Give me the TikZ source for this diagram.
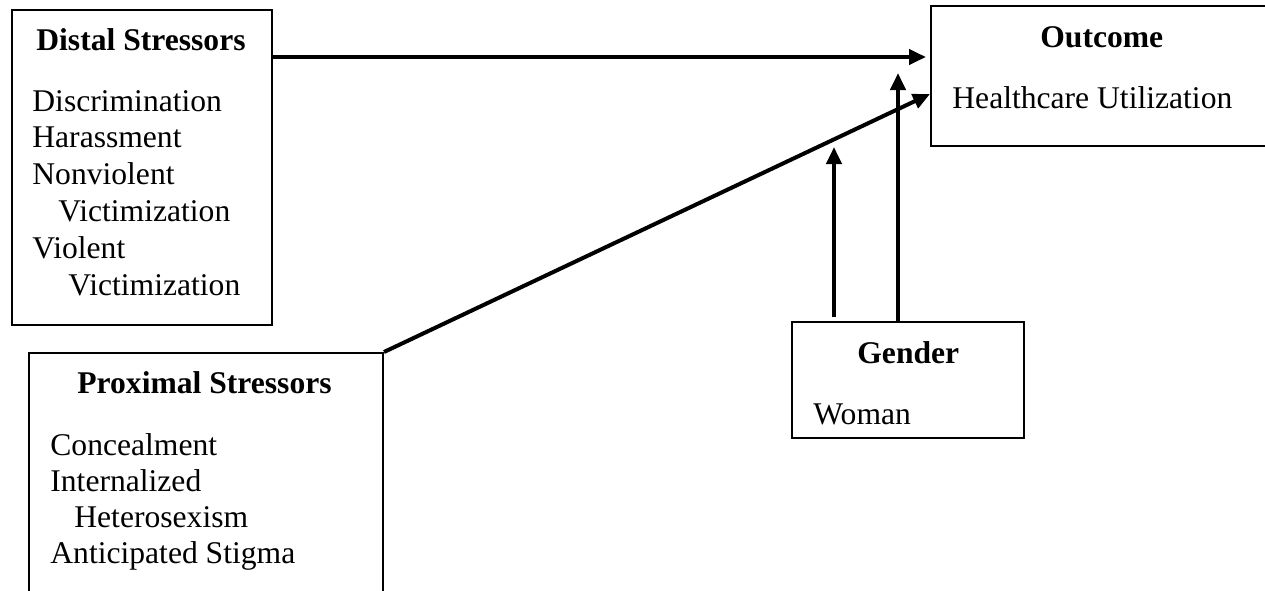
\documentclass[tikz,border=0pt]{standalone}
\usepackage{fontspec}
\setmainfont{Liberation Serif}
\usetikzlibrary{arrows.meta,fit}

\tikzset{
  boxline/.style={draw=black, line width=1pt, inner sep=0pt, fill=none},
  arr/.style={line width=2pt, -{Triangle[length=8.5pt,width=7.5pt]}},
  ttl/.style={anchor=base west, inner sep=0pt, font=\fontsize{15.8pt}{18.4pt}\selectfont\bfseries},
  itm/.style={anchor=base west, inner sep=0pt, font=\fontsize{15.8pt}{18.4pt}\selectfont},
}

\begin{document}
\begin{tikzpicture}[x=0.5pt, y=-0.5pt]
  \useasboundingbox (0,0) rectangle (1265,590);
  \fill[white] (0,0) rectangle (1265,590);
  \clip (0,0) rectangle (1265,590);

  % frames
  \node[boxline, fit={(12,10) (272,325)}] (distal) {};
  \node[boxline, fit={(931,6) (1285,146)}] (outcome) {};
  \node[boxline, fit={(29,353) (383,610)}] (proximal) {};
  \node[boxline, fit={(792,322) (1024,438)}] (gender) {};

  % distal stressors
  \node[ttl] (dT) at (36,50) {Distal Stressors};
  \node[itm] (d1) at (32,111) {Discrimination};
  \node[itm] (d2) at (32,147) {Harassment};
  \node[itm] (d3) at (32,184) {Nonviolent};
  \node[itm] (d4) at (58,221) {Victimization};
  \node[itm] (d5) at (32,258) {Violent};
  \node[itm] (d6) at (68,295) {Victimization};

  % proximal stressors
  \node[ttl] (pT) at (77,393) {Proximal Stressors};
  \node[itm] (p1) at (50,455) {Concealment};
  \node[itm] (p2) at (50,491) {Internalized};
  \node[itm] (p3) at (74,527) {Heterosexism};
  \node[itm] (p4) at (50,563) {Anticipated Stigma};

  % outcome
  \node[ttl] (oT) at (1040,47) {Outcome};
  \node[itm] (o1) at (952,108) {Healthcare Utilization};

  % moderator
  \node[ttl] (gT) at (857,363) {Gender};
  \node[itm] (g1) at (813,424) {Woman};

  % connector ends
  \coordinate (hy) at (0,57);
  \coordinate (dy) at (0,94);
  \coordinate (m1x) at (834,0);
  \coordinate (m2x) at (898,0);
  \coordinate (m1) at (834,147);
  \coordinate (m2) at (898,73);

  % paths
  \draw[arr, shorten >=2pt] (distal.east |- hy) -- (outcome.west |- hy);
  \draw[arr] (proximal.north east) -- (outcome.west |- dy);
  \draw[arr, shorten <=2pt] (gender.north -| m1x) -- (m1);
  \draw[arr] (gender.north -| m2x) -- (m2);
\end{tikzpicture}
\end{document}
